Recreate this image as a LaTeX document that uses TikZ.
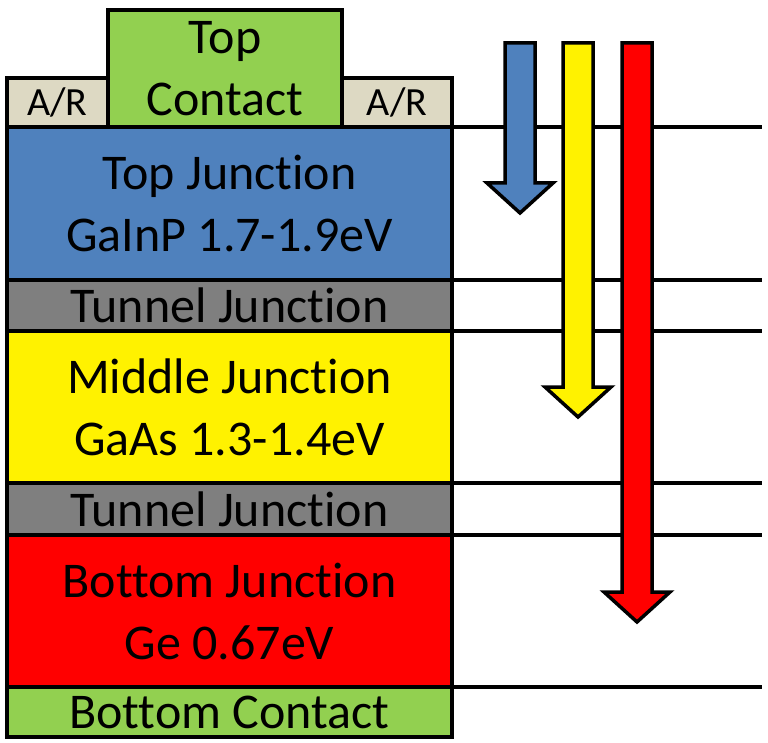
\documentclass[tikz,border=0pt]{standalone}
\usepackage{fontspec}
\setmainfont[Ligatures=NoCommon]{Carlito}
\usetikzlibrary{positioning}
\definecolor{cellblue}{HTML}{4F81BD}
\definecolor{cellgray}{HTML}{7F7F7F}
\definecolor{cellgreen}{HTML}{92D050}
\definecolor{celltan}{HTML}{DDD9C3}
\tikzset{
  layer/.style={draw=black, line width=3.5pt, outer sep=0pt, inner sep=0pt,
    minimum width=445pt, align=center, font=\fontsize{50}{62}\selectfont},
  capbox/.style={draw=black, line width=3.5pt, outer sep=0pt, inner sep=0pt,
    align=center},
  rimline/.style={line width=3.5pt},
  beam/.style={draw=black, line width=3.5pt, line join=miter}
}
\begin{document}
\begin{tikzpicture}[x=1pt, y=-1pt]
    \useasboundingbox (0,0) rectangle (768,743);
    % Stack of layers
    \node[layer, fill=cellblue, minimum height=153pt, anchor=north west] (topj) at (7,127) {Top Junction\\GaInP 1.7-1.9eV};
    \node[layer, fill=cellgray, minimum height=51pt, below=0pt of topj] (tunnelA) {Tunnel Junction};
    \node[layer, fill=yellow, minimum height=152pt, below=0pt of tunnelA] (midj) {Middle Junction\\GaAs 1.3-1.4eV};
    \node[layer, fill=cellgray, minimum height=52pt, below=0pt of midj] (tunnelB) {Tunnel Junction};
    \node[layer, fill=red, minimum height=152pt, below=0pt of tunnelB] (botj) {Bottom Junction\\Ge 0.67eV};
    \node[layer, fill=cellgreen, minimum height=50pt, below=0pt of botj] (botc) {Bottom Contact};
    
    % Top contact and A/R coating
    \node[capbox, fill=cellgreen, minimum width=234pt, minimum height=117pt, anchor=south west, font=\fontsize{50}{62}\selectfont] (topc) at (108,127) {Top\\Contact};
    \node[capbox, fill=celltan, minimum width=101pt, minimum height=49pt, anchor=south east, font=\fontsize{40}{44}\selectfont] (arL) at (topc.south west) {A/R};
    \node[capbox, fill=celltan, minimum width=110pt, minimum height=49pt, anchor=south west, font=\fontsize{40}{44}\selectfont] (arR) at (topc.south east) {A/R};
    
    % Boundary lines
    \coordinate (rim) at (762,0);
    \foreach \n in {topj, tunnelA, midj, tunnelB, botj}
        \draw[rimline] (\n.north east) -- (\n.north east -| rim);
    \draw[rimline] (botc.north east) -- (botc.north east -| rim);
    
    % Light penetration arrows
    \foreach \cx/\tip/\col in {520/213/cellblue, 578/417/yellow, 637/622/red}
        \draw[beam, fill=\col] (\cx-15,43) -- (\cx+15,43) -- (\cx+15,\tip-30) -- (\cx+33,\tip-30)
            -- (\cx,\tip) -- (\cx-33,\tip-30) -- (\cx-15,\tip-30) -- cycle;
\end{tikzpicture}
\end{document}
